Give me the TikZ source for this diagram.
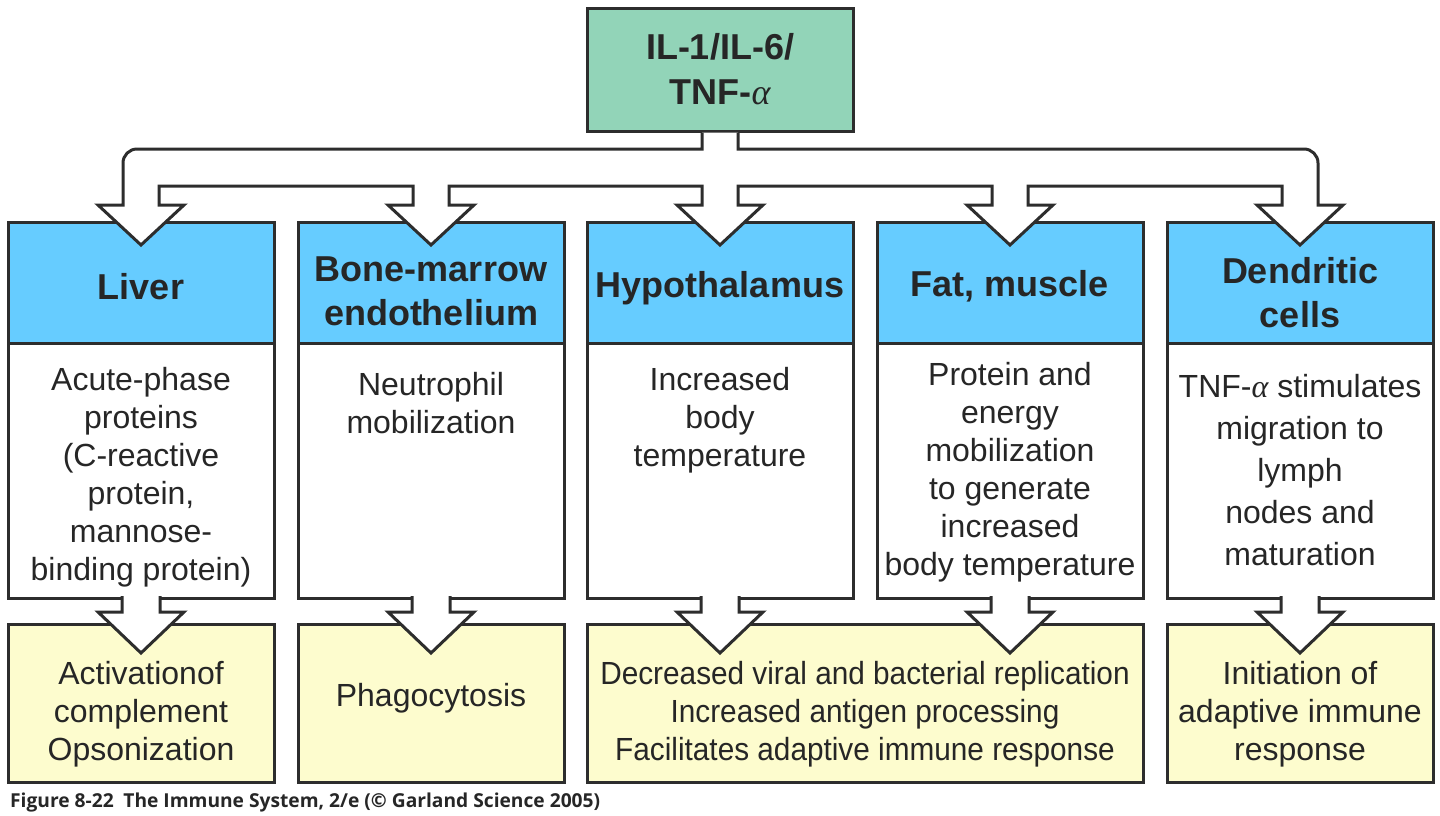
\documentclass[tikz,border=0pt]{standalone}
\usepackage{fontspec}
\setmainfont{Liberation Sans}
\newfontfamily\narrowsans[FakeStretch=0.93]{Liberation Sans}
\newfontfamily\greekfont{Liberation Serif}
\newfontfamily\capfont{Open Sans}
\newcommand{\alf}{{\greekfont\mdseries\itshape α}}
\usetikzlibrary{positioning,calc}
\definecolor{srcgreen}{RGB}{146,212,184}
\definecolor{headblue}{RGB}{102,204,255}
\definecolor{resyellow}{RGB}{253,252,206}
\definecolor{edgegray}{RGB}{45,45,45}
\definecolor{textgray}{RGB}{38,38,38}

\begin{document}
\begin{tikzpicture}[x=1pt, y=-1pt,
    node distance=0pt,
    box/.style={rectangle, draw=edgegray, line width=3pt, outer sep=0pt, inner sep=0pt, minimum width=266pt},
    srcbox/.style={box, fill=srcgreen, minimum height=123pt, align=center, text=textgray, font=\fontsize{36}{45}\selectfont\bfseries},
    headbox/.style={box, fill=headblue, minimum height=121pt},
    bodybox/.style={box, fill=white, minimum height=255pt},
    resbox/.style={box, fill=resyellow, minimum height=158pt},
    headtext/.style={inner sep=0pt, align=center, text=textgray, font=\fontsize{36}{44}\selectfont\bfseries},
    bodytext/.style={anchor=north, inner sep=0pt, align=center, text=textgray, font=\fontsize{32}{38}\selectfont},
    restext/.style={inner sep=0pt, align=center, text=textgray, font=\fontsize{32}{38}\selectfont},
    blockarrow/.style={draw=edgegray, fill=white, line width=3pt, line join=miter}
]
    \useasboundingbox (0,0) rectangle (1440,815);

    \node[srcbox] (src) at (720,69.5) {IL-1/IL-6/\\TNF-\alf};

    \node[headbox] (h1) at (141,282.5) {};
    \node[headbox] (h2) at (431,282.5) {};
    \node[headbox] (h3) at (720,282.5) {};
    \node[headbox] (h4) at (1010,282.5) {};
    \node[headbox] (h5) at (1300,282.5) {};

    \node[headtext] (ht1) at ($(h1.center)+(0,4)$) {Liver};
    \node[headtext] (ht2) at ($(h2.center)+(0,9)$) {Bone-marrow\\endothelium};
    \node[headtext] (ht3) at ($(h3.center)+(0,6)$) {Hypothalamus};
    \node[headtext] (ht4) at ($(h4.center)+(0,4)$) {Fat, muscle};
    \node[headtext] (ht5) at ($(h5.center)+(0,10)$) {Dendritic\\cells};

    \node[bodybox, below=of h1] (b1) {};
    \node[bodybox, below=of h2] (b2) {};
    \node[bodybox, below=of h3] (b3) {};
    \node[bodybox, below=of h4] (b4) {};
    \node[bodybox, below=of h5] (b5) {};

    \node[bodytext] (t1) at ($(b1.north)+(0,24)$) {Acute-phase\\proteins\\(C-reactive\\protein,\\mannose-\\binding protein)};
    \node[bodytext] (t2) at ($(b2.north)+(0,29)$) {Neutrophil\\mobilization};
    \node[bodytext] (t3) at ($(b3.north)+(0,24)$) {Increased\\body\\temperature};
    \node[bodytext] (t4) at ($(b4.north)+(0,19)$) {Protein and\\energy\\mobilization\\to generate\\increased\\body temperature};
    \node[bodytext, font=\fontsize{32}{42}\selectfont] (t5) at ($(b5.north)+(0,31)$) {TNF-\alf{} stimulates\\migration to\\lymph\\nodes and\\maturation};

    \node[resbox, below=26pt of b1] (r1) {};
    \node[resbox, below=26pt of b2] (r2) {};
    \node[resbox, minimum width=556pt, anchor=north] (r3) at ($(b3.south)!0.5!(b4.south)+(0,26)$) {};
    \node[resbox, below=26pt of b5] (r5) {};

    \node[restext] (rt1) at ($(r1.center)+(0,11)$) {Activationof\\complement\\Opsonization};
    \node[restext] (rt2) at ($(r2.center)+(0,-5)$) {Phagocytosis};
    \node[restext, font=\narrowsans\fontsize{32}{38}\selectfont] (rt3) at ($(r3.center)+(0,11)$) {Decreased viral and bacterial replication\\Increased antigen processing\\Facilitates adaptive immune response};
    \node[restext] (rt5) at ($(r5.center)+(0,11)$) {Initiation of\\adaptive immune\\response};

    \node[anchor=base west, inner sep=0pt, text=textgray, font=\capfont\fontsize{19.2}{21}\selectfont\bfseries] (caption) at (10,807) {Figure 8-22\enspace The Immune System, 2/e (© Garland Science 2005)};

    \foreach \b/\r in {b1/r1,b2/r2,b3/r3,b4/r3,b5/r5}
        \draw[blockarrow] ($(\b.south)+(-19,-2)$) -- ++(0,16) -- ++(-24,0) -- ($(\b.south |- \r.north)+(0,29)$) -- ++(43,-41) -- ++(-24,0) -- ++(0,-16);

    \draw[blockarrow] ($(src.south)+(-18,1.5)$) |- ($(h1.north)+(-4,-73)$)
        arc[start angle=270, end angle=180, radius=14]
        -- ($(h1.north)+(-18,-17)$) -- ++(-25,0) -- ($(h1.north)+(0,23)$) -- ++(43,-40) -- ++(-25,0)
        \foreach \h in {h2,h3,h4}{
            |- ($(\h.north)+(-18,-36)$) -- ++(0,19) -- ++(-25,0) -- ($(\h.north)+(0,23)$) -- ++(43,-40) -- ++(-25,0)
        }
        |- ($(h5.north)+(-18,-36)$) -- ++(0,19) -- ++(-25,0) -- ($(h5.north)+(0,23)$) -- ++(43,-40) -- ++(-25,0)
        -- ($(h5.north)+(18,-59)$) arc[start angle=360, end angle=270, radius=14]
        -| ($(src.south)+(18,1.5)$);
\end{tikzpicture}
\end{document}
